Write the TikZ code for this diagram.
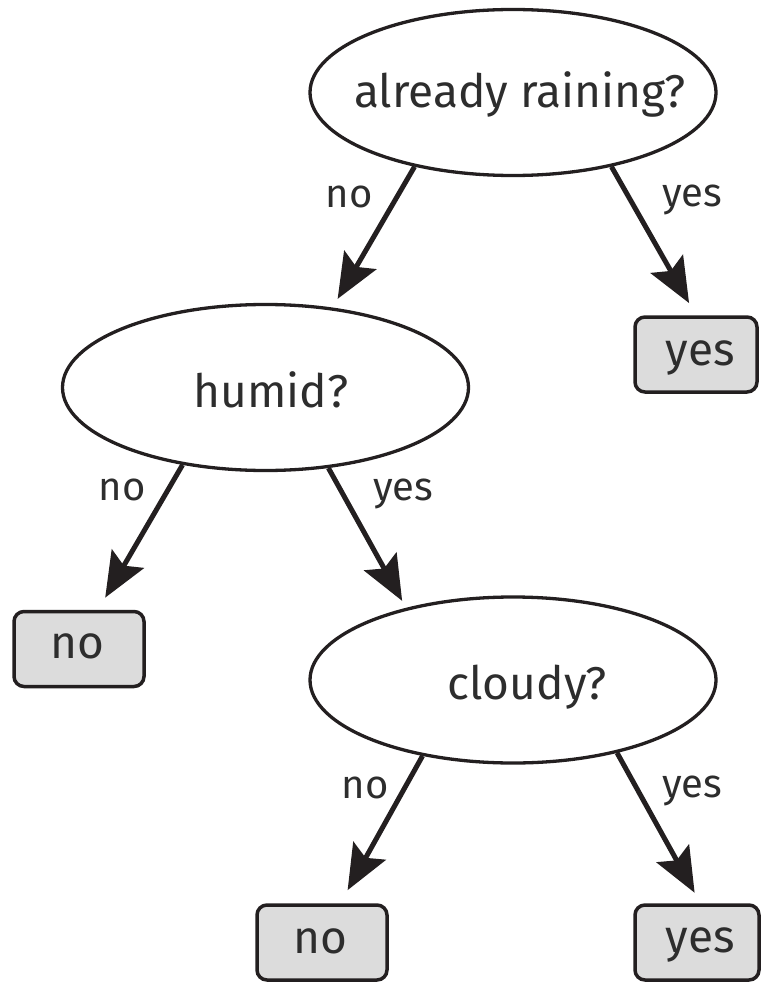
\documentclass[tikz,border=0pt]{standalone}
\usepackage{fontspec}
\setmainfont{Fira Sans}
\usetikzlibrary{arrows.meta,shapes.geometric}
\definecolor{ink}{HTML}{231F20}
\definecolor{txtc}{HTML}{2D2D2D}
\definecolor{leafgray}{HTML}{DCDCDC}
\begin{document}
\begin{tikzpicture}[x=1pt,y=-1pt,
  q/.style={ellipse, draw=ink, line width=3.3pt, minimum width=406pt, minimum height=166pt, inner sep=0pt},
  leaf/.style={draw=ink, fill=leafgray, line width=3.5pt, rounded corners=10pt, minimum height=75pt, inner sep=0pt},
  qtxt/.style={anchor=base, inner sep=0pt, text=txtc, font=\fontsize{46}{54}\selectfont},
  ltxt/.style={anchor=base, inner sep=0pt, text=txtc, font=\fontsize{46}{54}\selectfont},
  etxt/.style={anchor=base, inner sep=0pt, text=txtc, font=\fontsize{40}{48}\selectfont},
  arr/.style={draw=ink, line width=5pt, -{Stealth[length=45pt, width=37pt, inset=8pt]}}]
\useasboundingbox (0,0) rectangle (761,984);

% question nodes
\node[q] (top) at (513,92.5) {};
\node[qtxt] (topt) at (520,108) {already raining?};
\node[q] (humid) at (265.5,387.5) {};
\node[qtxt] (humidt) at (271,407) {humid?};
\node[q] (cloudy) at (513,680) {};
\node[qtxt] (cloudyt) at (527,699) {cloudy?};

% leaves
\node[leaf, minimum width=122pt] (yes1) at (696,354.5) {};
\node[ltxt] (yes1t) at (700,365) {yes};
\node[leaf, minimum width=130pt] (no1) at (79,649) {};
\node[ltxt] (no1t) at (77,658) {no};
\node[leaf, minimum width=130pt] (no2) at (322,942.5) {};
\node[ltxt] (no2t) at (320,953) {no};
\node[leaf, minimum width=124pt] (yes2) at (697,942.5) {};
\node[ltxt] (yes2t) at (700,952) {yes};

% connectors
\draw[arr, shorten >=10pt] (top.217) -- (humid.50);
\draw[arr, shorten >=14pt] (top.323.7) -- (yes1.north);
\draw[arr, shorten >=14pt] (humid.223.2) -- (no1.64.6);
\draw[arr, shorten >=8pt] (humid.308.2) -- (cloudy.146.4);
\draw[arr, shorten >=15pt] (cloudy.220.4) -- (no2.65.5);
\draw[arr, shorten >=12pt] (cloudy.325.9) -- (yes2.85.7);

% edge labels
\node[etxt] (l1) at (349,208) {no};
\node[etxt] (l2) at (692,207) {yes};
\node[etxt] (l3) at (122,500) {no};
\node[etxt] (l4) at (403,500) {yes};
\node[etxt] (l5) at (365,798) {no};
\node[etxt] (l6) at (692,797) {yes};
\end{tikzpicture}
\end{document}
